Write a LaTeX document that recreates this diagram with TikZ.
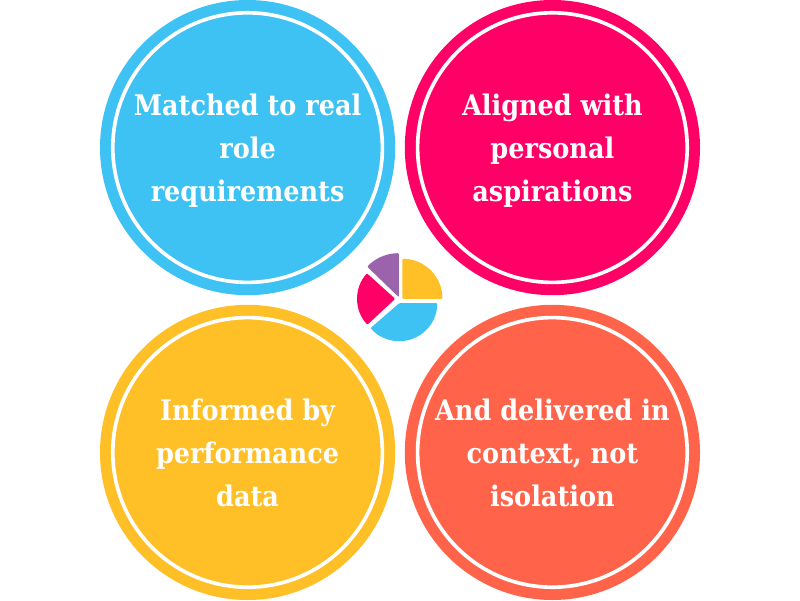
\documentclass[tikz,border=0pt]{standalone}
\usepackage{fontspec}
\setmainfont{DejaVu Serif Condensed}
\usetikzlibrary{positioning}
\definecolor{skyblue}{HTML}{3EC1F3}
\definecolor{hotpink}{HTML}{FF0066}
\definecolor{sunyellow}{HTML}{FFBF27}
\definecolor{coral}{HTML}{FF6349}
\definecolor{plum}{HTML}{9B63AC}
\tikzset{
	bubble/.style={circle,fill=#1,minimum size=7.38cm,inner sep=0pt,text=white,align=center,
		font=\fontsize{20.2}{30.6}\selectfont\bfseries,text height=76.6pt,text depth=0pt,
		path picture={\draw[white,line width=2.6pt] (path picture bounding box.center) circle (3.37cm);}},
	slice/.style={fill=#1,rounded corners=0.7pt}
}
\begin{document}
\begin{tikzpicture}
	\useasboundingbox (0,0) rectangle (20,15);
	\node[bubble=skyblue] (matched) at (6.19,11.31) {Matched to real\\role\\requirements};
	\node[bubble=hotpink] (aligned) at (13.81,11.31) {Aligned with\\personal\\aspirations};
	\node[bubble=sunyellow] (informed) at (6.19,3.69) {Informed by\\performance\\data};
	\node[bubble=coral] (delivered) at (13.81,3.69) {And delivered in\\context, not\\isolation};
	% pie in the middle
	\fill[slice=sunyellow] (10.06,7.53) -- ++(90:1) arc (90:0:1) -- cycle;
	\fill[slice=skyblue] (9.98,7.42) -- ++(0:0.95) arc (0:-139:0.95) -- cycle;
	\fill[slice=hotpink] (9.88,7.53) -- ++(138:0.95) arc (138:223:0.95) -- cycle;
	\fill[slice=plum] (9.97,7.57) -- ++(90:1.1) arc (90:136:1.1) -- cycle;
\end{tikzpicture}
\end{document}
